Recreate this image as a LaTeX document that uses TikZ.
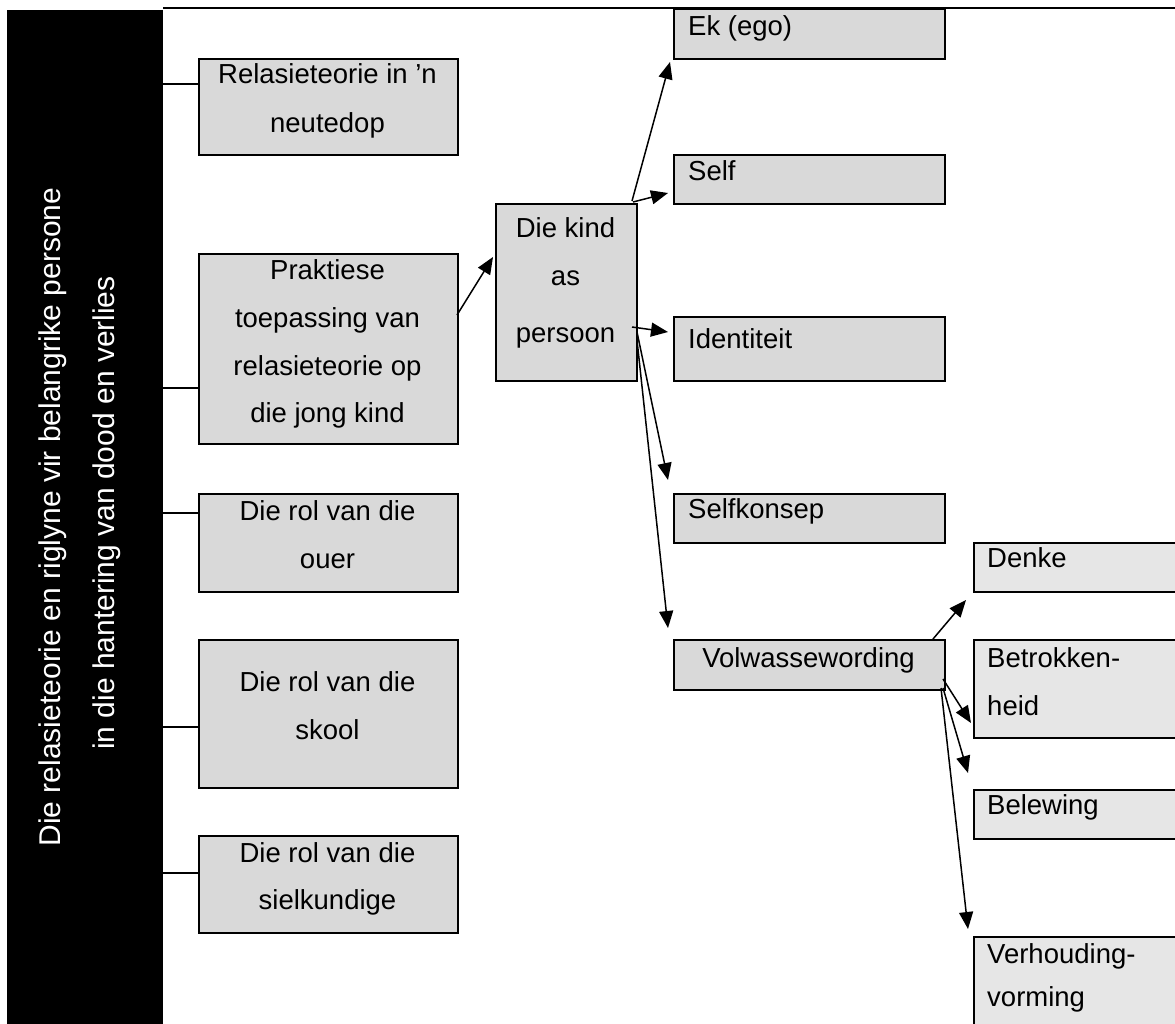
\documentclass[tikz,border=0pt]{standalone}
\usepackage{fontspec}
\setmainfont{Liberation Sans}
\usetikzlibrary{arrows.meta}
\definecolor{boxgray}{HTML}{D9D9D9}
\definecolor{boxlight}{HTML}{E6E6E6}
\begin{document}
\begin{tikzpicture}[x=1pt,y=-1pt,
  box/.style={draw=black, line width=2pt, fill=boxgray, rectangle, inner sep=0pt, anchor=north west},
  lightbox/.style={box, fill=boxlight},
  txt/.style={inner sep=0pt, font=\fontsize{27.5}{33}\selectfont, anchor=base},
  ltxt/.style={txt, anchor=base west},
  bartxt/.style={inner sep=0pt, text=white, font=\fontsize{30}{36}\selectfont, rotate=90, anchor=base},
  link/.style={line width=1.5pt},
  arr/.style={line width=1.5pt, -{Triangle[length=17pt,width=14pt]}}]
\useasboundingbox (0,0) rectangle (1175,1023);
\clip (0,0) rectangle (1175,1023);

% black bar and top rule
\node[fill=black, inner sep=0pt, minimum width=156pt, minimum height=1020pt, anchor=north west] (bar) at (7,10) {};
\coordinate (topL) at (163,8);
\coordinate (topR) at (1175,8);
\draw[line width=2pt] (topL) -- (topR);
\node[bartxt] (bt1) at (60,517) {Die relasieteorie en riglyne vir belangrike persone};
\node[bartxt] (bt2) at (114,513) {in die hantering van dood en verlies};

% left column
\node[box, minimum width=259pt, minimum height=96pt] (rel) at (198,58) {};
\node[box, minimum width=259pt, minimum height=190pt] (prak) at (198,253) {};
\node[box, minimum width=259pt, minimum height=98pt] (ouer) at (198,493) {};
\node[box, minimum width=259pt, minimum height=148pt] (skool) at (198,639) {};
\node[box, minimum width=259pt, minimum height=97pt] (sielk) at (198,835) {};

\node[txt] at (327.5,83) {Relasieteorie in ’n};
\node[txt] at (327.5,132) {neutedop};
\node[txt] at (327.5,279) {Praktiese};
\node[txt] at (327.5,327) {toepassing van};
\node[txt] at (327.5,375) {relasieteorie op};
\node[txt] at (327.5,422) {die jong kind};
\node[txt] at (327.5,520) {Die rol van die};
\node[txt] at (327.5,568) {ouer};
\node[txt] at (327.5,691) {Die rol van die};
\node[txt] at (327.5,739) {skool};
\node[txt] at (327.5,862) {Die rol van die};
\node[txt] at (327.5,909) {sielkundige};

% middle
\node[box, minimum width=141pt, minimum height=177pt] (kind) at (495,203) {};
\node[txt] at (565.5,237) {Die kind};
\node[txt] at (565.5,285) {as};
\node[txt] at (565.5,342) {persoon};

% right column
\node[box, minimum width=271pt, minimum height=50pt] (ego) at (673,8) {};
\node[box, minimum width=271pt, minimum height=49pt] (self) at (673,154) {};
\node[box, minimum width=271pt, minimum height=64pt] (ident) at (673,316) {};
\node[box, minimum width=271pt, minimum height=49pt] (selfk) at (673,493) {};
\node[box, minimum width=271pt, minimum height=50pt] (volw) at (673,639) {};
\node[ltxt] at (688,35) {Ek (ego)};
\node[ltxt] at (688,180) {Self};
\node[ltxt] at (688,348) {Identiteit};
\node[ltxt] at (688,518) {Selfkonsep};
\node[txt] at (808.5,667) {Volwassewording};

% far right column
\node[lightbox, minimum width=220pt, minimum height=49pt] (denke) at (973,542) {};
\node[lightbox, minimum width=220pt, minimum height=98pt] (betr) at (973,639) {};
\node[lightbox, minimum width=220pt, minimum height=49pt] (belew) at (973,789) {};
\node[lightbox, minimum width=220pt, minimum height=100pt] (verh) at (973,936) {};
\node[ltxt] at (987,567) {Denke};
\node[ltxt] at (987,667) {Betrokken-};
\node[ltxt] at (987,715) {heid};
\node[ltxt] at (987,814) {Belewing};
\node[ltxt] at (987,963) {Verhouding-};
\node[ltxt] at (987,1006) {vorming};

% plain links from bar
\coordinate (l1) at (163,84);
\coordinate (l2) at (163,388);
\coordinate (l3) at (163,513);
\coordinate (l4) at (163,727);
\coordinate (l5) at (163,873);
\draw[link] (l1) -- (l1 -| rel.west);
\draw[link] (l2) -- (l2 -| prak.west);
\draw[link] (l3) -- (l3 -| ouer.west);
\draw[link] (l4) -- (l4 -| skool.west);
\draw[link] (l5) -- (l5 -| sielk.west);

% arrows
\coordinate (p1) at (457,315); \coordinate (k1) at (493,257);
\draw[arr] (p1) -- (k1);
\coordinate (ks1) at (632,201); \coordinate (e1) at (670,62);
\coordinate (ks2) at (633,202); \coordinate (e2) at (668,193);
\coordinate (ks3) at (632,327); \coordinate (e3) at (668,332);
\coordinate (ks4) at (637,332); \coordinate (e4) at (668,480);
\coordinate (ks5) at (637,340); \coordinate (e5) at (668,628);
\draw[arr] (ks1) -- (e1);
\draw[arr] (ks2) -- (e2);
\draw[arr] (ks3) -- (e3);
\draw[arr] (ks4) -- (e4);
\draw[arr] (ks5) -- (e5);
\coordinate (vs1) at (933,639); \coordinate (f1) at (966,600);
\coordinate (vs2) at (943,679); \coordinate (f2) at (971,723);
\coordinate (vs3) at (943,688); \coordinate (f3) at (968,773);
\coordinate (vs4) at (941,688); \coordinate (f4) at (968,929);
\draw[arr] (vs1) -- (f1);
\draw[arr] (vs2) -- (f2);
\draw[arr] (vs3) -- (f3);
\draw[arr] (vs4) -- (f4);
\end{tikzpicture}
\end{document}
